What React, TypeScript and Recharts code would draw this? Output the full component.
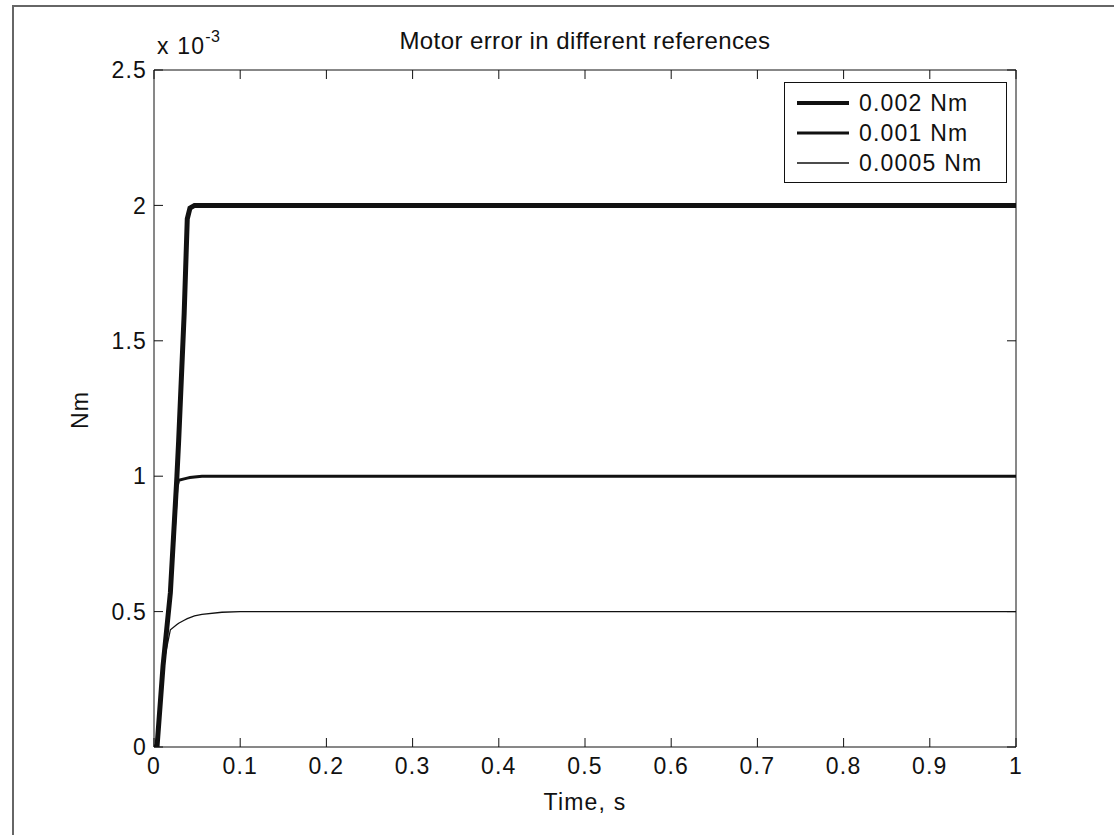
import React from "react";
import { LineChart, Line, XAxis, YAxis, Legend } from "recharts";

// time in seconds, torque error in units of 1e-3 Nm
const times = [0, 0.0035, 0.0105, 0.019, 0.0266, 0.0286, 0.035, 0.0386, 0.0417, 0.047, 0.0556, 0.0788, 0.1, 1];
const err2mNm = [0, 0, 0.3, 0.57, 1.0, 1.13, 1.6, 1.95, 1.99, 2.0, 2.0, 2.0, 2.0, 2.0];
const err1mNm = [0, 0, 0.3, 0.57, 0.96, 0.985, 0.99, 0.993, 0.995, 0.997, 1.0, 1.0, 1.0, 1.0];
const err05mNm = [0, 0, 0.3, 0.433, 0.452, 0.457, 0.468, 0.474, 0.478, 0.484, 0.49, 0.4976, 0.5, 0.5];

const xTicks = [0, 0.1, 0.2, 0.3, 0.4, 0.5, 0.6, 0.7, 0.8, 0.9, 1];
const yTicks = [0, 0.5, 1, 1.5, 2, 2.5];

const series = [
  { key: "r2", name: "0.002 Nm", width: 5, legendWidth: 4 },
  { key: "r1", name: "0.001 Nm", width: 3, legendWidth: 3 },
  { key: "r05", name: "0.0005 Nm", width: 1.3, legendWidth: 1.3 },
];

const data = times.map((t, i) => ({
  t,
  r2: err2mNm[i],
  r1: err1mNm[i],
  r05: err05mNm[i],
}));

const FONT = "'Liberation Sans', Arial, sans-serif";
const tickStyle = { fill: "#111", fontSize: 23, fontFamily: FONT, letterSpacing: 1.2 };
const noLabel = () => <g />;

const textStyle = { fontFamily: FONT, fontSize: 23, letterSpacing: 1.2, color: "#111" };

function LegendBox() {
  return (
    <div
      style={{
        position: "relative",
        width: 221,
        height: 99,
        border: "1px solid #111",
        background: "#fff",
        ...textStyle,
      }}
    >
      {series.map((s, i) => (
        <div key={s.key} style={{ position: "absolute", left: 12, top: 20 + i * 30 - 12, height: 24, display: "flex", alignItems: "center" }}>
          <svg width={52} height={24} style={{ display: "block" }}>
            <line x1={0} x2={52} y1={12} y2={12} stroke="#111" strokeWidth={s.legendWidth} />
          </svg>
          <span style={{ marginLeft: 10, lineHeight: "24px" }}>{s.name}</span>
        </div>
      ))}
    </div>
  );
}

export default function App() {
  return (
    <div style={{ position: "relative", width: 1114, height: 835, overflow: "hidden", background: "#fff" }}>
      <style>{"body{margin:0}"}</style>
      <div
        style={{
          position: "absolute",
          left: 12,
          top: 5,
          width: 1200,
          height: 900,
          borderLeft: "2px solid #666",
          borderTop: "2px solid #666",
        }}
      />
      <LineChart width={1114} height={835} data={data} margin={{ top: 60, right: 88, bottom: 38, left: 94 }}>
        <XAxis
          xAxisId="bottom"
          dataKey="t"
          type="number"
          domain={[0, 1]}
          ticks={xTicks}
          orientation="bottom"
          height={50}
          tickSize={-9}
          tickMargin={20}
          tick={tickStyle}
          stroke="#111"
          allowDataOverflow
        />
        <XAxis
          xAxisId="top"
          dataKey="t"
          type="number"
          domain={[0, 1]}
          ticks={xTicks}
          orientation="top"
          height={10}
          tickSize={-9}
          tick={noLabel}
          stroke="#111"
          allowDataOverflow
        />
        <YAxis
          yAxisId="left"
          type="number"
          domain={[0, 2.5]}
          ticks={yTicks}
          width={60}
          tickSize={-9}
          tickMargin={16}
          tick={tickStyle}
          stroke="#111"
          allowDataOverflow
        />
        <YAxis
          yAxisId="right"
          orientation="right"
          type="number"
          domain={[0, 2.5]}
          ticks={yTicks}
          width={10}
          tickSize={-9}
          tick={noLabel}
          stroke="#111"
          allowDataOverflow
        />
        {series.map((s) => (
          <Line
            key={s.key}
            xAxisId="bottom"
            yAxisId="left"
            type="linear"
            dataKey={s.key}
            name={s.name}
            stroke="#111"
            strokeWidth={s.width}
            dot={false}
            activeDot={false}
            isAnimationActive={false}
          />
        ))}
        <Legend
          layout="horizontal"
          verticalAlign="middle"
          align="center"
          wrapperStyle={{ position: "absolute", left: 784, top: 82, width: 223, height: 101 }}
          content={() => <LegendBox />}
        />
      </LineChart>
      <div style={{ position: "absolute", left: 0, width: 1170, top: 27, textAlign: "center", ...textStyle, fontSize: 24, letterSpacing: 0.4 }}>
        Motor error in different references
      </div>
      <div style={{ position: "absolute", left: 157, top: 34, ...textStyle, lineHeight: "24px" }}>
        x 10<sup style={{ fontSize: 16, verticalAlign: "top", position: "relative", top: -9, letterSpacing: 0.5 }}>-3</sup>
      </div>
      <div
        style={{
          position: "absolute",
          left: 80,
          top: 410,
          transform: "translate(-50%, -50%) rotate(-90deg)",
          ...textStyle,
          whiteSpace: "nowrap",
        }}
      >
        Nm
      </div>
      <div style={{ position: "absolute", left: 0, width: 1170, top: 789, textAlign: "center", ...textStyle }}>
        Time, s
      </div>
    </div>
  );
}
